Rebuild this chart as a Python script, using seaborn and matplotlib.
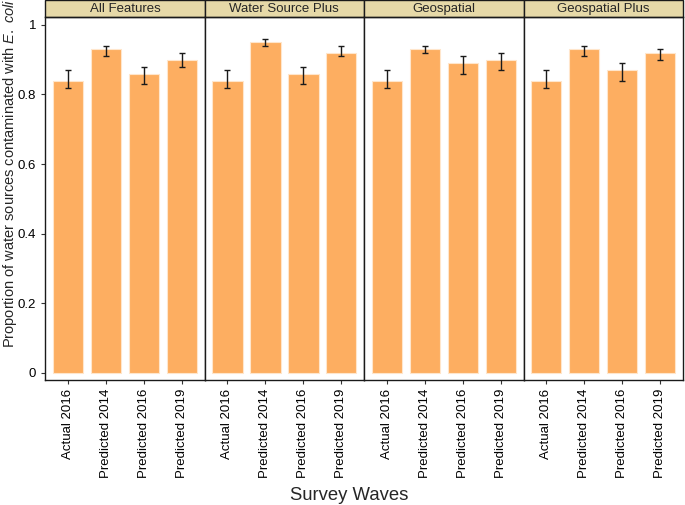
import numpy as np
import pandas as pd
import seaborn as sns
import matplotlib.pyplot as plt
from matplotlib.patches import Rectangle

models = ['All Features', 'Water Source Plus', 'Geospatial', 'Geospatial Plus']
waves = ['Actual 2016', 'Predicted 2014', 'Predicted 2016', 'Predicted 2019']

prop_all = [0.84, 0.93, 0.86, 0.90]
prop_wsp = [0.84, 0.95, 0.86, 0.92]
prop_geo = [0.84, 0.93, 0.89, 0.90]
prop_gp = [0.84, 0.93, 0.87, 0.92]

lo_all = [0.82, 0.91, 0.83, 0.88]
lo_wsp = [0.82, 0.94, 0.83, 0.91]
lo_geo = [0.82, 0.92, 0.86, 0.87]
lo_gp = [0.82, 0.91, 0.84, 0.90]

hi_all = [0.87, 0.94, 0.88, 0.92]
hi_wsp = [0.87, 0.96, 0.88, 0.94]
hi_geo = [0.87, 0.94, 0.91, 0.92]
hi_gp = [0.87, 0.94, 0.89, 0.93]

df = pd.DataFrame({
    'model': np.repeat(models, len(waves)),
    'wave': waves * len(models),
    'prop': prop_all + prop_wsp + prop_geo + prop_gp,
    'lo': lo_all + lo_wsp + lo_geo + lo_gp,
    'hi': hi_all + hi_wsp + hi_geo + hi_gp,
})

sns.set_style('white')
plt.rcParams['font.family'] = ['Liberation Sans', 'DejaVu Sans']
plt.rcParams['mathtext.fontset'] = 'custom'
plt.rcParams['mathtext.it'] = 'Liberation Sans:italic'
plt.rcParams['mathtext.rm'] = 'Liberation Sans'

g = sns.catplot(data=df, x='wave', y='prop', col='model', col_order=models,
                order=waves, kind='bar', color='#FDAE61', saturation=1,
                errorbar=None, edgecolor='#FFE6CC', linewidth=0.8,
                width=0.8, height=3.6, aspect=0.45, sharey=True)
fig = g.figure
fig.set_size_inches(6.85, 5.05)
fig.subplots_adjust(left=0.066, right=0.997, bottom=0.2485, top=0.9657, wspace=0)

strip_h = 17.3 / 362
for i, (ax, model) in enumerate(zip(g.axes.flat, models)):
    sub = df[df['model'] == model]
    ax.errorbar(np.arange(len(waves)), sub['prop'],
                yerr=[sub['prop'] - sub['lo'], sub['hi'] - sub['prop']],
                fmt='none', ecolor='#1a1a1a', elinewidth=1, capsize=2, capthick=1)
    ax.set_xlim(-0.6, 3.6)
    ax.set_ylim(-0.02, 1.022)
    ax.set_title('')
    ax.set_xlabel('')
    ax.set_ylabel('')
    for s in ax.spines.values():
        s.set_visible(True)
        s.set_color('#1a1a1a')
        s.set_linewidth(1)
    ax.tick_params(axis='x', direction='out', length=3, color='#333333',
                   labelsize=9.5, labelcolor='black', bottom=True)
    ax.set_xticks(range(len(waves)))
    ax.set_xticklabels(waves, rotation=90)
    if i == 0:
        ax.set_yticks([0, 0.2, 0.4, 0.6, 0.8, 1.0])
        ax.set_yticklabels(['0', '0.2', '0.4', '0.6', '0.8', '1'])
        ax.tick_params(axis='y', direction='out', length=3, color='#333333',
                       labelsize=9.5, labelcolor='black', left=True)
    else:
        ax.tick_params(axis='y', left=False, labelleft=False)
    ax.add_patch(Rectangle((0, 1), 1, strip_h, transform=ax.transAxes,
                           facecolor='#E6D9A8', edgecolor='#1a1a1a',
                           linewidth=1, clip_on=False))
    ax.text(0.5, 1 + strip_h / 2, model, transform=ax.transAxes,
            ha='center', va='center', fontsize=9.5)

fig.text(0.0146, 0.6564,
         r'Proportion of water sources contaminated with $\it{E.\ coli}$',
         rotation=90, ha='center', va='center', fontsize=10.5)
fig.text(0.51, 0.009, 'Survey Waves', ha='center', va='baseline', fontsize=13.3)

fig.savefig('out.png', dpi=100)
